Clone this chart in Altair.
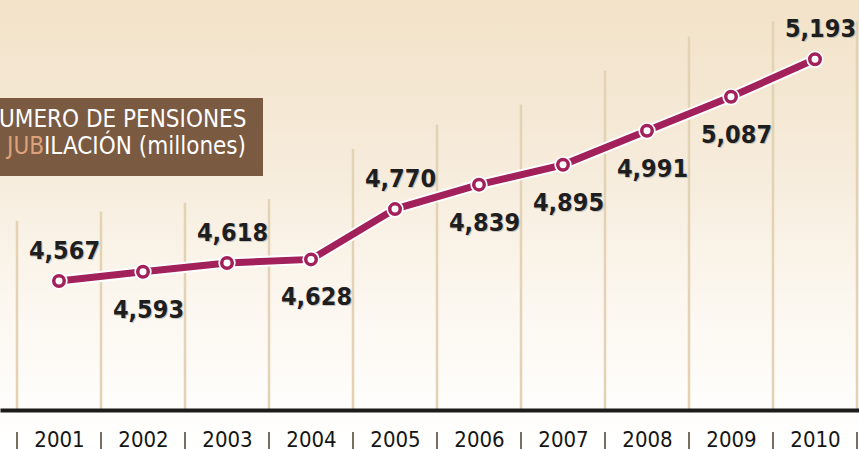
import altair as alt
import pandas as pd

# ---- data ----
years = [2001, 2002, 2003, 2004, 2005, 2006, 2007, 2008, 2009, 2010]
values = [4.567, 4.593, 4.618, 4.628, 4.770, 4.839, 4.895, 4.991, 5.087, 5.193]
value_labels = ["4,567", "4,593", "4,618", "4,628", "4,770",
                "4,839", "4,895", "4,991", "5,087", "5,193"]
label_side = ["above", "below", "above", "below", "above",
              "below", "below", "below", "below", "above"]
title_line1 = "UMERO DE PENSIONES"
title_line2_accent = "JUB"
title_line2_rest = "ILACIÓN (millones)"

df = pd.DataFrame({"year": years, "value": values,
                   "label": value_labels, "side": label_side})

# column separators (between years) and their visible tops, derived from the data
bounds = [y - 0.5 for y in years] + [years[-1] + 0.5]
tops = []
for i, b in enumerate(bounds):
    adj = []
    if i - 1 >= 0:
        adj.append(values[i - 1])
    if i < len(values):
        adj.append(values[i])
    tops.append(min(max(adj) + 0.17, 5.30))
bdf = pd.DataFrame({"b": bounds, "top": tops, "base": [4.2028] * len(bounds)})

one = pd.DataFrame({"k": [0]})

W, H = 859, 410
xs = alt.Scale(domain=[2000.2976, 2010.5238], nice=False, zero=False)
ys = alt.Scale(domain=[4.2028, 5.3603], nice=False, zero=False)

MAG = "#a3215b"
COND = "DejaVu Sans Condensed, Liberation Sans, sans-serif"

xaxis = alt.Axis(values=years, format="d", title=None, grid=False,
                 ticks=False, domain=True, domainColor="#1b1b1b",
                 domainWidth=4, labelFont=COND, labelFontSize=22,
                 labelColor="#151515", labelPadding=19, zindex=1,
                 labelFlush=False, labelOverlap=False)

bg = alt.Chart(one).mark_rect(
    color=alt.Gradient(
        gradient="linear", x1=0, x2=0, y1=0, y2=1,
        stops=[alt.GradientStop(offset=0, color="#f2e2c8"),
               alt.GradientStop(offset=0.35, color="#f6ebda"),
               alt.GradientStop(offset=0.7, color="#fcf8f1"),
               alt.GradientStop(offset=1, color="#ffffff")])
).encode(x=alt.value(0), x2=alt.value(W), y=alt.value(0), y2=alt.value(449))

seps = alt.Chart(bdf).mark_rule(color="#e3d2b3", strokeWidth=2.5).encode(
    x=alt.X("b:Q", scale=xs, axis=xaxis),
    y=alt.Y("top:Q", scale=ys, axis=None),
    y2="base:Q",
)

ticks = alt.Chart(bdf).mark_rule(color="#4e3e2e", strokeWidth=1.5).encode(
    x=alt.X("b:Q", scale=xs, axis=xaxis),
    y=alt.value(432), y2=alt.value(449),
)

box = alt.Chart(one).mark_rect(color="#7b5a42").encode(
    x=alt.value(0), x2=alt.value(263), y=alt.value(98), y2=alt.value(176))

TB = dict(baseline="alphabetic", font=COND, fontSize=24)
t1 = alt.Chart(one).mark_text(align="left", color="#ffffff", **TB).encode(
    x=alt.value(-1), y=alt.value(127), text=alt.value(title_line1))
t2a = alt.Chart(one).mark_text(align="right", color="#dba27c", **TB).encode(
    x=alt.value(44), y=alt.value(154), text=alt.value(title_line2_accent))
t2b = alt.Chart(one).mark_text(align="left", color="#ffffff", **TB).encode(
    x=alt.value(44), y=alt.value(154), text=alt.value(title_line2_rest))

base = alt.Chart(df).encode(
    x=alt.X("year:Q", scale=xs, axis=xaxis),
    y=alt.Y("value:Q", scale=ys, axis=None),
)

halo = base.mark_line(color="#ffffff", strokeWidth=11)
line = base.mark_line(color=MAG, strokeWidth=7)
phalo = base.mark_point(shape="circle", filled=True, color="#ffffff", size=300, opacity=1)
pts = base.mark_point(shape="circle", filled=False, fill="#ffffff", fillOpacity=1,
                      stroke=MAG, strokeWidth=3.5, size=110, opacity=1)

LBL = dict(font=COND, fontSize=25, fontWeight="bold", baseline="middle", align="center")
above = base.transform_filter(alt.datum.side == "above")
below = base.transform_filter(alt.datum.side == "below")
sh_above = above.mark_text(dx=6.5, dy=-29, color="#8a8a8a", opacity=0.45, **LBL).encode(text="label:N")
sh_below = below.mark_text(dx=6.5, dy=39, color="#8a8a8a", opacity=0.45, **LBL).encode(text="label:N")
lab_above = above.mark_text(dx=5.5, dy=-30, color="#1e1e1e", **LBL).encode(text="label:N")
lab_below = below.mark_text(dx=5.5, dy=38, color="#1e1e1e", **LBL).encode(text="label:N")

chart = alt.layer(
    bg, seps, box, t1, t2a, t2b, halo, line, phalo, pts,
    sh_above, sh_below, lab_above, lab_below, ticks
).properties(
    width=W, height=H,
    padding={"left": 0, "top": 0, "right": 0, "bottom": 39},
    autosize="none",
    background="#ffffff",
).configure_view(stroke=None)

chart.save("out.html", embed_options={"renderer": "svg", "actions": False})
